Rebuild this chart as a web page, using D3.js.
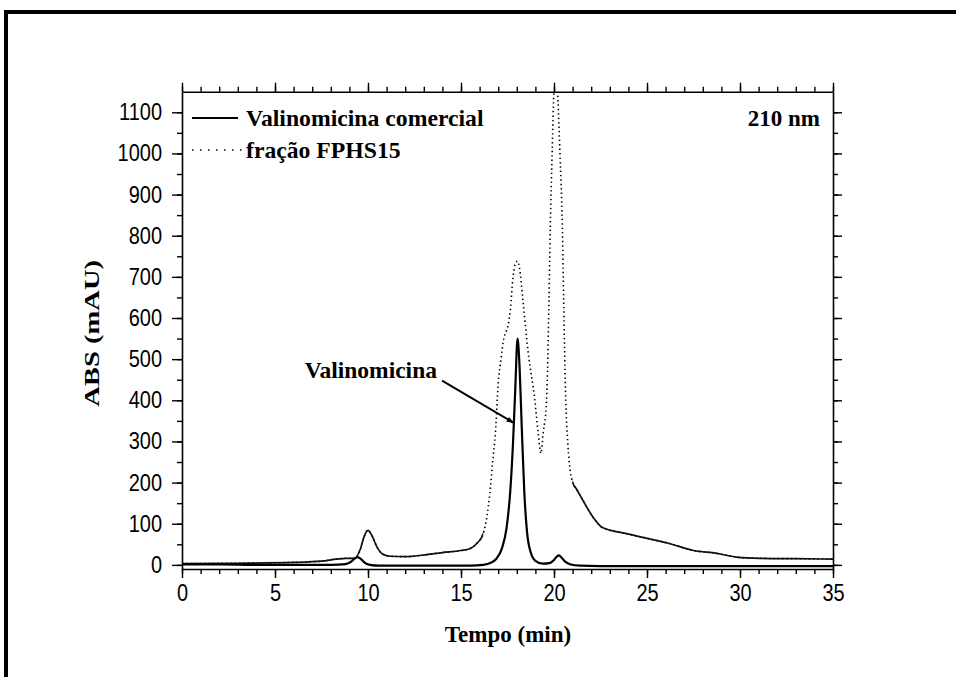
<!DOCTYPE html>
<html><head><meta charset="utf-8">
<script src="https://cdn.jsdelivr.net/npm/d3@7"></script>
<style>
html,body{margin:0;padding:0;background:#fff;overflow:hidden;width:956px;height:677px;}
svg{display:block;}
</style></head>
<body>
<svg id="chart" width="956" height="677"></svg>
<script>
// ---- data ----
const timeSolid = [0, 2, 4, 6, 8, 8.8, 9.1, 9.3, 9.44, 9.6, 9.8, 10.1, 10.6, 12, 14, 15.5, 16.2, 16.6, 16.9, 17.2, 17.45, 17.65, 17.8, 17.92, 18.04, 18.15, 18.27, 18.4, 18.55, 18.75, 19.0, 19.4, 19.8, 20.0, 20.15, 20.27, 20.4, 20.6, 20.9, 21.4, 22.5, 25, 30, 35];
const absSolid  = [1, 1, 0, 0, 0, 2, 8, 16, 19, 15, 6, 0, -2, -2, -2, -2, 0, 5, 15, 40, 90, 180, 300, 430, 550, 480, 330, 180, 80, 30, 10, 3, 5, 12, 20, 23, 18, 8, 1, -2, -3, -3, -3, -3];

const timeFrac = [0, 3, 6, 7.5, 8.3, 8.8, 9.3, 9.6, 9.8, 10.0, 10.2, 10.5, 10.8, 11.2, 12, 13, 14, 15, 15.5, 15.85, 16.2, 16.4, 16.55, 16.7, 16.85, 17.0, 17.15, 17.3, 17.45, 17.55, 17.65, 17.8, 17.95, 18.04, 18.15, 18.33, 18.6, 18.97, 19.15, 19.3, 19.42, 19.6, 19.73, 19.8, 19.9, 20.0, 20.08, 20.15, 20.2, 20.32, 20.45, 20.52, 20.62, 20.75, 20.87, 21.0, 21.2, 21.55, 22.1, 22.6, 23.9, 26.2, 27.5, 28.75, 29.8, 31.1, 33, 35];
const absFrac  = [3, 4, 6, 9, 14, 16, 16, 40, 70, 84, 72, 42, 26, 21, 20, 24, 30, 35, 40, 52, 76, 120, 173, 250, 320, 440, 500, 550, 570, 585, 620, 700, 735, 738, 720, 643, 521, 400, 320, 271, 320, 400, 643, 820, 1000, 1160, 1210, 1200, 1146, 1000, 820, 643, 420, 290, 230, 200, 185, 157, 116, 91, 76, 52, 35, 28, 19, 16, 15, 14];

const xTicks = [0, 5, 10, 15, 20, 25, 30, 35];
const yTicks = [0, 100, 200, 300, 400, 500, 600, 700, 800, 900, 1000, 1100];
const seriesNames = ["Valinomicina comercial", "fração FPHS15"];
const wavelengthLabel = "210 nm";
const xTitle = "Tempo (min)";
const yTitle = "ABS (mAU)";
const annotationText = "Valinomicina";
const annotationArrow = {x1: 13.98, y1: 448, x2: 17.8, y2: 346};
const annotationPos = {x: 10.15, y: 455};
const denseFracRanges = [[0, 16.2], [21.0, 35]];

// ---- layout ----
const svg = d3.select("#chart");
const L = 182, R = 833, T = 91.7, B = 569;
const x = d3.scaleLinear().domain([0, 35]).range([L, R]);
const y = d3.scaleLinear().domain([-10, 1150]).range([B, T]);
const serif = "'Liberation Serif','Times New Roman',serif";
const sans = "'Liberation Sans',Arial,sans-serif";
const fmt = d3.format("d");

// outer frame (left + top only visible)
svg.append("line").attr("x1", 6).attr("x2", 6).attr("y1", 10).attr("y2", 690)
  .attr("stroke", "#000").attr("stroke-width", 4);
svg.append("line").attr("x1", 4).attr("x2", 990).attr("y1", 12).attr("y2", 12)
  .attr("stroke", "#000").attr("stroke-width", 4);

const defs = svg.append("defs");
defs.append("clipPath").attr("id", "plotclip")
  .append("rect").attr("x", L).attr("y", T).attr("width", R - L).attr("height", B - T);
denseFracRanges.forEach((r, i) => {
  defs.append("clipPath").attr("id", "dense" + i)
    .append("rect").attr("x", x(r[0])).attr("y", T).attr("width", x(r[1]) - x(r[0])).attr("height", B - T);
});
defs.append("marker").attr("id", "arrow").attr("viewBox", "0 0 10 10").attr("refX", 9).attr("refY", 5)
  .attr("markerWidth", 8).attr("markerHeight", 7).attr("orient", "auto").attr("markerUnits", "userSpaceOnUse")
  .append("path").attr("d", "M0,1 L10,5 L0,9 z").attr("fill", "#000");

// axes
function styleAxis(g, stretch) {
  g.selectAll("path.domain").attr("stroke", "#000").attr("stroke-width", 1.6);
  g.selectAll(".tick line").attr("stroke", "#000").attr("stroke-width", 1.4);
  g.selectAll("text").attr("font-family", sans).attr("font-size", 20).attr("fill", "#000")
    .attr("transform", stretch || null);
}
const xMinor = d3.range(0, 35.01, 1);
const yMinor = d3.range(0, 1150, 50);

function minor(axisFn, scale, vals, transform) {
  const g = svg.append("g").attr("transform", transform)
    .call(axisFn(scale).tickValues(vals).tickSize(5).tickFormat(""));
  g.select("path.domain").remove();
  g.selectAll(".tick line").attr("stroke", "#000").attr("stroke-width", 1.4);
}
minor(d3.axisBottom, x, xMinor, `translate(0,${B})`);
minor(d3.axisTop, x, xMinor, `translate(0,${T})`);
minor(d3.axisLeft, y, yMinor, `translate(${L},0)`);
minor(d3.axisRight, y, yMinor, `translate(${R},0)`);

const gx = svg.append("g").attr("transform", `translate(0,${B})`)
  .call(d3.axisBottom(x).tickValues(xTicks).tickFormat(fmt).tickSize(9).tickSizeOuter(0).tickPadding(4));
styleAxis(gx, "scale(1,1.18)");
const gxt = svg.append("g").attr("transform", `translate(0,${T})`)
  .call(d3.axisTop(x).tickValues(xTicks).tickSize(9).tickSizeOuter(0).tickFormat(""));
styleAxis(gxt);
const gy = svg.append("g").attr("transform", `translate(${L},0)`)
  .call(d3.axisLeft(y).tickValues(yTicks).tickFormat(fmt).tickSize(10).tickSizeOuter(0).tickPadding(10));
styleAxis(gy, "scale(1,1.18)");
const gyr = svg.append("g").attr("transform", `translate(${R},0)`)
  .call(d3.axisRight(y).tickValues(yTicks).tickSize(9).tickSizeOuter(0).tickFormat(""));
styleAxis(gyr);

// curves
const solidData = timeSolid.map((t, i) => [t, absSolid[i]]);
const fracData = timeFrac.map((t, i) => [t, absFrac[i]]);
const line = d3.line().x(d => x(d[0])).y(d => y(d[1])).curve(d3.curveMonotoneX);

const plot = svg.append("g").attr("clip-path", "url(#plotclip)");
plot.append("path").datum(fracData).attr("d", line).attr("fill", "none")
  .attr("stroke", "#000").attr("stroke-width", 1.6).attr("stroke-dasharray", "1.4,3");
denseFracRanges.forEach((r, i) => {
  plot.append("g").attr("clip-path", `url(#dense${i})`)
    .append("path").datum(fracData).attr("d", line).attr("fill", "none")
    .attr("stroke", "#111").attr("stroke-width", 1.7);
});
plot.append("path").datum(solidData).attr("d", line).attr("fill", "none")
  .attr("stroke", "#000").attr("stroke-width", 2.2).attr("stroke-linejoin", "round");

// legend
const lg = svg.append("g");
lg.append("line").attr("x1", 192).attr("x2", 238).attr("y1", 118).attr("y2", 118)
  .attr("stroke", "#000").attr("stroke-width", 2);
lg.append("line").attr("x1", 192).attr("x2", 244).attr("y1", 150).attr("y2", 150)
  .attr("stroke", "#000").attr("stroke-width", 1.5).attr("stroke-dasharray", "1.5,6.5");
lg.append("text").attr("x", 246).attr("y", 126).text(seriesNames[0])
  .attr("font-family", serif).attr("font-weight", "bold").attr("font-size", 23.7);
lg.append("text").attr("x", 246).attr("y", 158).text(seriesNames[1])
  .attr("font-family", serif).attr("font-weight", "bold").attr("font-size", 23.7);
svg.append("text").attr("x", 820).attr("y", 126).attr("text-anchor", "end").text(wavelengthLabel)
  .attr("font-family", serif).attr("font-weight", "bold").attr("font-size", 23);

// annotation
svg.append("line").attr("x1", x(annotationArrow.x1)).attr("y1", y(annotationArrow.y1))
  .attr("x2", x(annotationArrow.x2)).attr("y2", y(annotationArrow.y2))
  .attr("stroke", "#000").attr("stroke-width", 2).attr("marker-end", "url(#arrow)");
svg.append("text").attr("x", x(annotationPos.x)).attr("y", y(annotationPos.y)).attr("text-anchor", "middle")
  .text(annotationText).attr("font-family", serif).attr("font-weight", "bold").attr("font-size", 23.5);

// titles
svg.append("text").attr("x", 508).attr("y", 642).attr("text-anchor", "middle").text(xTitle)
  .attr("font-family", serif).attr("font-weight", "bold").attr("font-size", 23);
svg.append("text").attr("transform", `translate(99,${(T + B) / 2 + 3}) rotate(-90) scale(1.3,1)`).attr("text-anchor", "middle")
  .text(yTitle).attr("font-family", serif).attr("font-weight", "bold").attr("font-size", 22);
</script>
</body></html>
